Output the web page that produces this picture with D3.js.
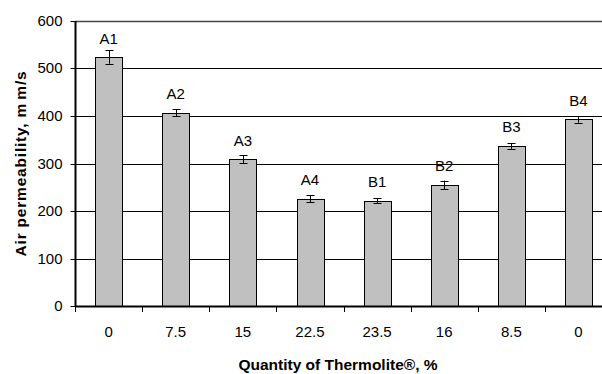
<!DOCTYPE html>
<html lang="en">
<head>
    <meta charset="utf-8">
    <title>Air permeability vs Thermolite</title>
    <script src="https://d3js.org/d3.v7.min.js"></script>
    <style>
        body { margin: 0; background: #fff; }
        text { font-family: "Liberation Sans", Arial, sans-serif; fill: #000; }
        .tick-label { font-size: 15px; }
        .bar-label { font-size: 15px; text-anchor: middle; }
        .axis-title { font-size: 15.5px; font-weight: bold; }
    </style>
</head>
<body>
<div id="chart"></div>
<script>
    // Chart data
    var categories = ["0", "7.5", "15", "22.5", "23.5", "16", "8.5", "0"];
    var sampleLabels = ["A1", "A2", "A3", "A4", "B1", "B2", "B3", "B4"];
    var values = [524, 407, 309, 226, 222, 255, 337, 393];
    var errors = [14, 7, 8, 7, 5, 9, 6, 7];
    var yTicks = [0, 100, 200, 300, 400, 500, 600];

    var w = 602, h = 374;
    var plotLeft = 75, plotTop = 21, plotRight = 612, plotBottom = 306;

    var svg = d3.select("#chart")
        .append("svg")
        .attr("width", w)
        .attr("height", h);

    // x scale: one band per sample, keyed by index since categories repeat
    var x = d3.scaleBand()
        .domain(d3.range(categories.length))
        .range([plotLeft, plotRight])
        .paddingInner(0.6)
        .paddingOuter(0.3);

    var y = d3.scaleLinear()
        .domain([0, 600])
        .range([plotBottom, plotTop]);

    // gridlines
    svg.selectAll("line.grid")
        .data(yTicks.filter(function (d) { return d > 0; }))
        .enter()
        .append("line")
        .attr("class", "grid")
        .attr("x1", plotLeft)
        .attr("x2", plotRight)
        .attr("y1", function (d) { return Math.round(y(d)) + 0.5; })
        .attr("y2", function (d) { return Math.round(y(d)) + 0.5; })
        .attr("stroke", function (d) { return d === 600 ? "#444" : "#000"; })
        .attr("stroke-width", function (d) { return d === 600 ? 1.5 : 1; });

    // bars
    svg.selectAll("rect.bar")
        .data(values)
        .enter()
        .append("rect")
        .attr("class", "bar")
        .attr("x", function (d, i) { return Math.round(x(i)) + 0.5; })
        .attr("y", function (d) { return Math.round(y(d)) + 0.5; })
        .attr("width", Math.round(x.bandwidth()))
        .attr("height", function (d) { return plotBottom - Math.round(y(d)); })
        .attr("fill", "#c0c0c0")
        .attr("stroke", "#000")
        .attr("stroke-width", 1);

    // error bars
    function cx(i) { return Math.round(x(i) + x.bandwidth() / 2) + 0.5; }

    var eb = svg.selectAll("g.err")
        .data(values)
        .enter()
        .append("g")
        .attr("class", "err")
        .attr("stroke", "#000")
        .attr("stroke-width", 1);

    eb.append("line")
        .attr("x1", function (d, i) { return cx(i); })
        .attr("x2", function (d, i) { return cx(i); })
        .attr("y1", function (d, i) { return y(d + errors[i]); })
        .attr("y2", function (d, i) { return y(d - errors[i]); });
    eb.append("line")
        .attr("x1", function (d, i) { return cx(i) - 4; })
        .attr("x2", function (d, i) { return cx(i) + 4; })
        .attr("y1", function (d, i) { return Math.round(y(d + errors[i])) + 0.5; })
        .attr("y2", function (d, i) { return Math.round(y(d + errors[i])) + 0.5; });
    eb.append("line")
        .attr("x1", function (d, i) { return cx(i) - 4; })
        .attr("x2", function (d, i) { return cx(i) + 4; })
        .attr("y1", function (d, i) { return Math.round(y(d - errors[i])) + 0.5; })
        .attr("y2", function (d, i) { return Math.round(y(d - errors[i])) + 0.5; });

    // sample labels above bars
    svg.selectAll("text.bar-label")
        .data(values)
        .enter()
        .append("text")
        .attr("class", "bar-label")
        .attr("x", function (d, i) { return x(i) + x.bandwidth() / 2; })
        .attr("y", function (d) { return y(d) - 13.5; })
        .text(function (d, i) { return sampleLabels[i]; });

    // y axis
    var yAxis = svg.append("g")
        .attr("transform", "translate(" + (plotLeft + 0.5) + ",0)")
        .call(d3.axisLeft(y).tickValues(yTicks).tickSize(5).tickPadding(8));
    yAxis.select(".domain").attr("stroke-width", 2).attr("d", "M0," + plotTop + "V" + plotBottom);
    yAxis.selectAll(".tick")
        .attr("transform", function (d) { return "translate(0," + (Math.round(y(d)) + 0.5) + ")"; });
    yAxis.selectAll(".tick text").attr("class", "tick-label");
    yAxis.attr("font-family", null).attr("font-size", null);

    // x axis: ticks on band boundaries, labels centred in bands
    var xAxisG = svg.append("g");
    xAxisG.append("line")
        .attr("x1", plotLeft)
        .attr("x2", plotRight)
        .attr("y1", plotBottom + 0.5)
        .attr("y2", plotBottom + 0.5)
        .attr("stroke", "#000")
        .attr("stroke-width", 2);
    xAxisG.selectAll("line.xtick")
        .data(d3.range(categories.length + 1))
        .enter()
        .append("line")
        .attr("class", "xtick")
        .attr("x1", function (i) { return Math.round(plotLeft + i * x.step()) + 0.5; })
        .attr("x2", function (i) { return Math.round(plotLeft + i * x.step()) + 0.5; })
        .attr("y1", plotBottom)
        .attr("y2", plotBottom + 6)
        .attr("stroke", "#000");
    xAxisG.selectAll("text")
        .data(categories)
        .enter()
        .append("text")
        .attr("class", "tick-label")
        .attr("text-anchor", "middle")
        .attr("x", function (d, i) { return x(i) + x.bandwidth() / 2; })
        .attr("y", 336.5)
        .text(function (d) { return d; });

    // axis titles (the y title is set a little wider, like the original)
    var yTitle = svg.append("text")
        .attr("class", "axis-title")
        .attr("text-anchor", "middle")
        .attr("letter-spacing", "0.8px")
        .attr("transform", "translate(25.5,163.5) rotate(-90)");
    yTitle.append("tspan").text("Air permeability, ");
    yTitle.append("tspan").attr("letter-spacing", "4px").text("m");
    yTitle.append("tspan").text("m/s");

    svg.append("text")
        .attr("class", "axis-title")
        .attr("text-anchor", "middle")
        .attr("x", 338)
        .attr("y", 370)
        .text("Quantity of Thermolite®, %");
</script>
</body>
</html>
